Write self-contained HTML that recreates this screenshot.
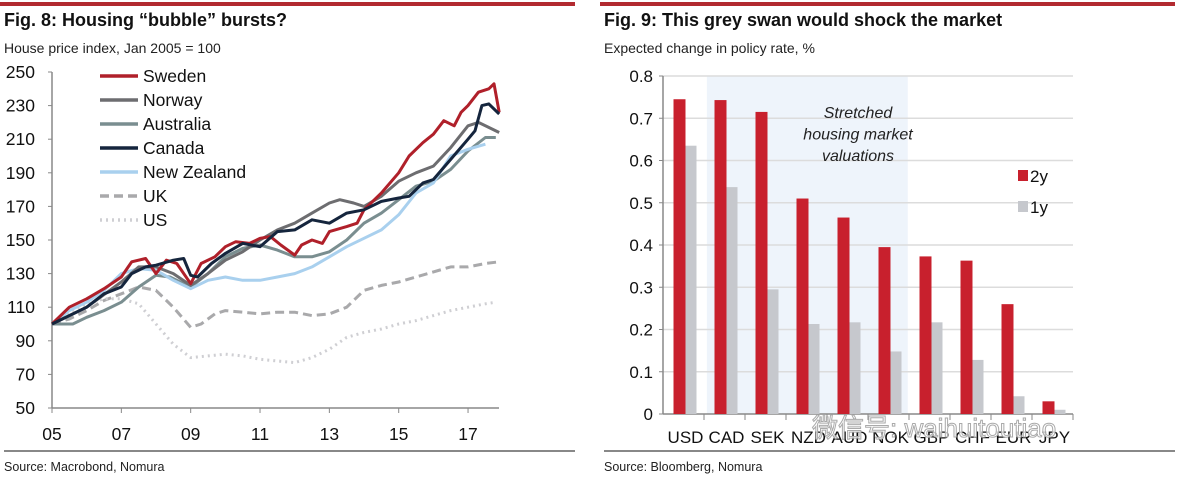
<!DOCTYPE html>
<html><head><meta charset="utf-8">
<style>
body{margin:0;width:1185px;height:480px;background:#fff;overflow:hidden;font-family:"Liberation Sans",Arial,sans-serif;}
svg{position:absolute;left:0;top:0}
</style></head>
<body>
<svg id="s" width="1185" height="480" font-family="Liberation Sans, Arial, sans-serif">
  <rect x="0" y="2" width="575" height="4" fill="#b22a30"/>
  <rect x="600" y="2" width="575" height="4" fill="#b22a30"/>
  <text x="4" y="26" font-size="18" font-weight="bold" fill="#111">Fig. 8: Housing “bubble” bursts?</text>
  <text x="4" y="53" font-size="14" fill="#222">House price index, Jan 2005 = 100</text>
  <text x="604" y="26" font-size="18" font-weight="bold" fill="#111">Fig. 9: This grey swan would shock the market</text>
  <text x="604" y="53" font-size="14" fill="#222">Expected change in policy rate, %</text>
  <line x1="4" y1="451" x2="575" y2="451" stroke="#111" stroke-width="1"/>
  <line x1="604" y1="451" x2="1175" y2="451" stroke="#111" stroke-width="1"/>
  <text x="4" y="471" font-size="12.5" fill="#222">Source: Macrobond, Nomura</text>
  <text x="604" y="471" font-size="12.5" fill="#222">Source: Bloomberg, Nomura</text>
  <g id="left"></g>
  <g id="right"></g>
</svg>
<script>
// ---- Left chart data ----
const yTicksL = [50,70,90,110,130,150,170,190,210,230,250];
const xTickYears = [2005,2007,2009,2011,2013,2015,2017];
const xTickLabels = ["05","07","09","11","13","15","17"];
const seNames = ["Sweden","Norway","Australia","Canada","New Zealand","UK","US"];
const swedenX=[2005,2005.5,2006,2006.5,2007,2007.3,2007.7,2008,2008.3,2008.6,2009,2009.3,2009.7,2010,2010.3,2010.7,2011,2011.3,2011.6,2012,2012.2,2012.5,2012.8,2013,2013.5,2013.8,2014,2014.5,2015,2015.3,2015.7,2016,2016.3,2016.6,2016.8,2017,2017.3,2017.6,2017.75,2017.9];
const swedenY=[100,110,115,121,128,137,139,130,138,136,124,136,140,146,149,148,151,152,147,141,147,150,148,155,158,160,168,178,190,200,208,213,221,218,226,230,238,240,243,226];
const norwayX=[2005,2006,2007,2007.5,2008,2008.5,2009,2009.5,2010,2010.5,2011,2011.5,2012,2012.5,2013,2013.3,2013.7,2014,2014.5,2015,2015.5,2016,2016.5,2017,2017.3,2017.7,2017.9];
const norwayY=[100,110,125,134,134,130,123,130,138,143,150,156,160,166,172,174,172,170,176,185,190,194,205,218,220,216,214];
const australiaX=[2005,2005.6,2006,2006.5,2007,2007.5,2008,2008.4,2009,2009.5,2010,2010.5,2011,2011.5,2012,2012.5,2013,2013.5,2014,2014.5,2015,2015.5,2016,2016.5,2017,2017.5,2017.8];
const australiaY=[100,100,104,108,113,122,129,128,122,130,140,145,147,144,140,140,143,150,160,166,174,182,185,192,203,211,211];
const canadaX=[2005,2005.5,2006,2006.5,2007,2007.3,2007.7,2008,2008.5,2008.8,2009,2009.2,2009.6,2010,2010.5,2011,2011.5,2012,2012.5,2013,2013.5,2014,2014.5,2015,2015.3,2015.7,2016,2016.5,2017,2017.2,2017.4,2017.6,2017.9];
const canadaY=[100,105,110,118,122,130,134,135,138,139,129,128,136,142,148,146,155,156,162,160,166,168,173,175,176,184,186,198,210,215,230,231,225];
const nzX=[2005,2005.5,2006,2006.5,2007,2007.5,2008,2008.5,2009,2009.5,2010,2010.5,2011,2011.5,2012,2012.5,2013,2013.5,2014,2014.5,2015,2015.5,2016,2016.5,2017,2017.5];
const nzY=[100,108,113,120,130,133,132,126,121,126,128,126,126,128,130,134,140,146,151,156,165,178,184,200,204,207];
const ukX=[2005,2005.5,2006,2006.5,2007,2007.5,2008,2008.5,2009,2009.3,2009.7,2010,2010.5,2011,2011.5,2012,2012.5,2013,2013.5,2014,2014.5,2015,2015.5,2016,2016.5,2017,2017.5,2017.9];
const ukY=[100,103,108,114,118,122,120,110,98,100,106,108,107,106,107,107,105,106,110,120,123,125,128,131,134,134,136,137];
const usX=[2005,2005.5,2006,2006.5,2007,2007.5,2008,2008.5,2009,2009.5,2010,2010.5,2011,2011.5,2012,2012.5,2013,2013.5,2014,2014.5,2015,2015.5,2016,2016.5,2017,2017.5,2017.8];
const usY=[100,107,112,115,115,112,100,88,80,81,82,81,79,78,77,80,85,92,95,97,100,102,105,108,110,112,113];

// ---- Right chart data ----
const currencies=["USD","CAD","SEK","NZD","AUD","NOK","GBP","CHF","EUR","JPY"];
const twoY=[0.745,0.743,0.715,0.51,0.465,0.395,0.373,0.363,0.26,0.03];
const oneY=[0.635,0.537,0.295,0.213,0.217,0.148,0.217,0.128,0.042,0.01];
const yTicksR=[0,0.1,0.2,0.3,0.4,0.5,0.6,0.7,0.8];

const NS="http://www.w3.org/2000/svg";
function mk(tag,attrs,parent,txt){const e=document.createElementNS(NS,tag);for(const k in attrs)e.setAttribute(k,attrs[k]);if(txt!==undefined)e.textContent=txt;parent.appendChild(e);return e;}

// Left axes
const L=document.getElementById('left');
const lx0=52,lx1=499;
const xL=y=>52+(y-2005)*34.67;
const yL=v=>408-(v-50)*1.68;
mk('line',{x1:lx0,y1:yL(50),x2:lx0,y2:yL(250),stroke:'#888','stroke-width':1.5},L);
mk('line',{x1:lx0,y1:yL(50),x2:lx1,y2:yL(50),stroke:'#888','stroke-width':1.5},L);
yTicksL.forEach(v=>{
  const t=mk('text',{x:35,y:yL(v)+6,'font-size':17.5,'text-anchor':'end',fill:'#111'},L,String(v));
  
  
  mk('line',{x1:lx0-4,y1:yL(v),x2:lx0,y2:yL(v),stroke:'#888'},L);
});
xTickYears.forEach((yr,i)=>{
  const t=mk('text',{x:xL(yr),y:440,'font-size':17.5,'text-anchor':'middle',fill:'#111'},L,xTickLabels[i]);
  
  
  mk('line',{x1:xL(yr),y1:yL(50),x2:xL(yr),y2:yL(50)+5,stroke:'#888'},L);
});
const series=[
 [ukX,ukY,'#a9a9ab',3,'9,5','uk'],
 [usX,usY,'#cfcfd3',3,'2,4','us'],
 [australiaX,australiaY,'#7a8e90',3,'','australia'],
 [nzX,nzY,'#a9d0ee',3,'','new-zealand'],
 [norwayX,norwayY,'#6d6d70',3,'','norway'],
 [swedenX,swedenY,'#b0202a',3,'','sweden'],
 [canadaX,canadaY,'#15253d',3,'','canada'],
];
series.forEach(s=>{
  const d=s[0].map((x,i)=>(i?'L':'M')+xL(x).toFixed(1)+','+yL(s[1][i]).toFixed(1)).join('');
  const p=mk('path',{d:d,fill:'none',stroke:s[2],'stroke-width':s[3],'stroke-linejoin':'round','stroke-dasharray':s[4]||'none'},L);
  
  
});
const legStyles=[['#b0202a',''],['#6d6d70',''],['#7a8e90',''],['#15253d',''],['#a9d0ee',''],['#a9a9ab','9,5'],['#cfcfd3','2,4']];
seNames.forEach((n,i)=>{
  const y=76+i*24;
  const g=mk('g',{},L);
  
  
  mk('line',{x1:100,y1:y,x2:138,y2:y,stroke:legStyles[i][0],'stroke-width':3.5,'stroke-dasharray':legStyles[i][1]||'none'},g);
  mk('text',{x:143,y:y+6,'font-size':17.5,fill:'#111'},g,n);
});

// Right chart
const R=document.getElementById('right');
const rx0=663,rx1=1073,step=(rx1-rx0)/currencies.length;
const yR=v=>414-v*422.5;
const sh=mk('rect',{x:rx0+step*1.07,y:yR(0.8),width:step*4.9,height:yR(0)-yR(0.8),fill:'#eef4fb'},R);


yTicksR.forEach(v=>{
  if(v>0) mk('line',{x1:rx0,y1:yR(v),x2:rx1,y2:yR(v),stroke:'#dcdcdc','stroke-width':1.5},R);
  const t=mk('text',{x:653,y:yR(v)+6,'font-size':17,'text-anchor':'end',fill:'#111'},R,v===0?'0':v.toFixed(1));
  
  
  mk('line',{x1:rx0-4,y1:yR(v),x2:rx0,y2:yR(v),stroke:'#888'},R);
});
mk('line',{x1:rx0,y1:yR(0),x2:rx0,y2:yR(0.8),stroke:'#888','stroke-width':1.5},R);
mk('line',{x1:rx0,y1:yR(0),x2:rx1,y2:yR(0),stroke:'#888','stroke-width':1.5},R);
currencies.forEach((c,i)=>{
  const cx=rx0+step*(i+0.5);
  mk('line',{x1:rx0+step*(i+1),y1:yR(0),x2:rx0+step*(i+1),y2:yR(0)+6,stroke:'#888'},R);
  const b2=mk('rect',{x:cx-10,y:yR(twoY[i]),width:12,height:yR(0)-yR(twoY[i]),fill:'#c8202d'},R);
  
  
  const b1=mk('rect',{x:cx+2,y:yR(oneY[i]),width:11,height:yR(0)-yR(oneY[i]),fill:'#c6c8cd'},R);
  
  
  const t=mk('text',{x:cx+2,y:443,'font-size':17,'text-anchor':'middle',fill:'#111'},R,c);
  
  
});
['Stretched','housing market','valuations'].forEach((s,i)=>{
  const t=mk('text',{x:858,y:118+i*21.5,'font-size':16,'font-style':'italic','text-anchor':'middle',fill:'#222'},R,s);
  
  
});
[['2y','#c8202d',176],['1y','#c6c8cd',207]].forEach(l=>{
  const g=mk('g',{},R);
  
  
  mk('rect',{x:1018,y:l[2]-6,width:10,height:11,fill:l[1]},g);
  mk('text',{x:1030,y:l[2]+6,'font-size':17,fill:'#111'},g,l[0]);
});
const wm=mk('text',{x:812,y:437,'font-size':26,fill:'#ffffff','fill-opacity':0.75,stroke:'#aaa','stroke-width':1},R,'微信号: waihuitoutiao');
wm.setAttribute('font-family','"Liberation Sans","Noto Sans CJK SC",sans-serif');


</script>
</body></html>
